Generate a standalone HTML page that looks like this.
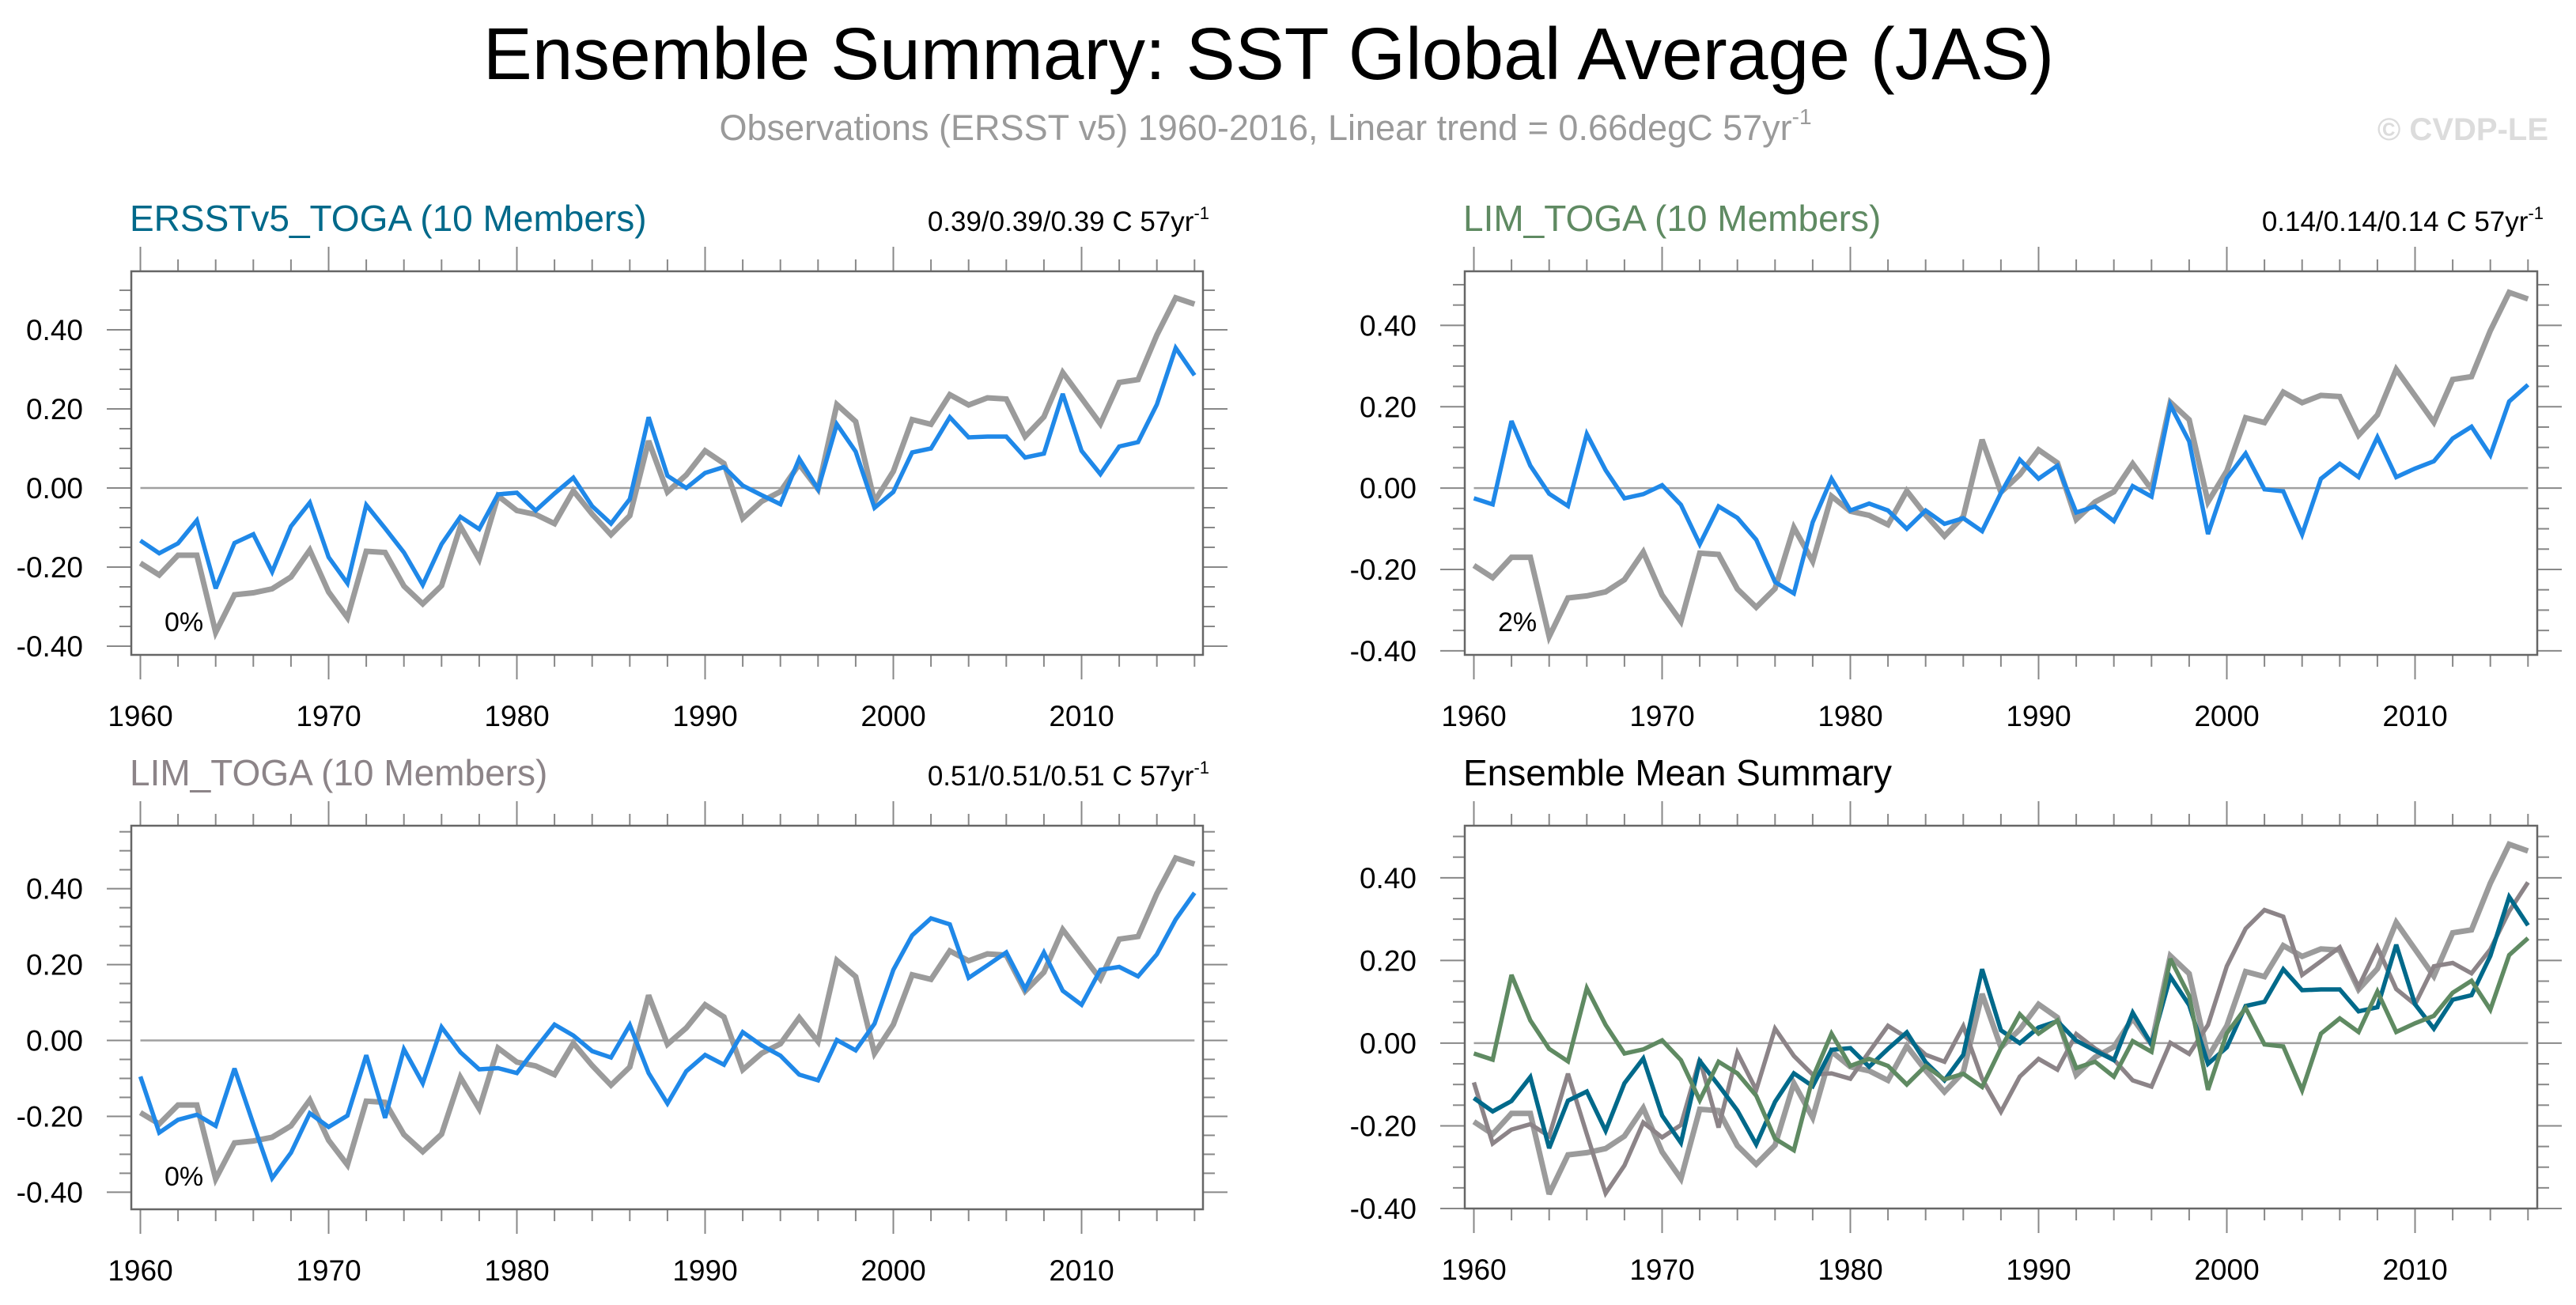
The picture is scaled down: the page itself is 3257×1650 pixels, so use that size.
<!DOCTYPE html>
<html><head><meta charset="utf-8"><style>
html,body{margin:0;padding:0;background:#fff;}
svg{display:block;font-family:"Liberation Sans",Arial,sans-serif;}
</style></head><body>
<svg id="fig" width="3257" height="1650" viewBox="0 0 3257 1650" xmlns="http://www.w3.org/2000/svg">
<text x="1604" y="100" font-size="93" text-anchor="middle" fill="#000">Ensemble Summary: SST Global Average (JAS)</text>
<text x="1600" y="177" font-size="45" text-anchor="middle" fill="#9a9a9a">Observations (ERSST v5) 1960-2016, Linear trend = 0.66degC 57yr<tspan font-size="28" dy="-20">-1</tspan></text>
<text x="3222" y="177" font-size="40" font-weight="bold" text-anchor="end" fill="#dcdcdc">© CVDP-LE</text>
</svg>
<script>
const years = [];
for (let y = 1960; y <= 2016; y++) years.push(y);
const obsSeries = [-0.19,-0.22,-0.17,-0.17,-0.365,-0.27,-0.265,-0.255,-0.225,-0.157,-0.263,-0.328,-0.16,-0.163,-0.248,-0.293,-0.247,-0.097,-0.18,-0.02,-0.057,-0.067,-0.09,-0.007,-0.066,-0.118,-0.07,0.119,-0.01,0.033,0.094,0.062,-0.077,-0.034,-0.009,0.06,-0.003,0.211,0.168,-0.034,0.042,0.173,0.161,0.236,0.21,0.228,0.225,0.13,0.18,0.292,0.227,0.162,0.267,0.274,0.387,0.481,0.465];
const erssTogaSeries = [-0.133,-0.165,-0.14,-0.082,-0.254,-0.139,-0.117,-0.212,-0.097,-0.037,-0.175,-0.241,-0.043,-0.102,-0.163,-0.245,-0.142,-0.073,-0.104,-0.016,-0.012,-0.057,-0.014,0.026,-0.046,-0.09,-0.028,0.179,0.031,0.0,0.038,0.053,0.006,-0.018,-0.041,0.074,-0.003,0.161,0.092,-0.05,-0.01,0.09,0.1,0.179,0.128,0.13,0.13,0.077,0.087,0.238,0.094,0.035,0.105,0.116,0.211,0.354,0.285];
const limTogaSeries = [-0.025,-0.04,0.165,0.055,-0.014,-0.044,0.133,0.044,-0.025,-0.015,0.007,-0.041,-0.138,-0.045,-0.073,-0.127,-0.231,-0.259,-0.084,0.023,-0.055,-0.038,-0.055,-0.1,-0.055,-0.088,-0.074,-0.106,-0.012,0.07,0.023,0.055,-0.06,-0.045,-0.081,0.005,-0.021,0.204,0.115,-0.113,0.024,0.085,-0.003,-0.008,-0.114,0.023,0.06,0.027,0.125,0.027,0.048,0.066,0.122,0.151,0.081,0.213,0.254];
const limToga2Series = [-0.095,-0.243,-0.209,-0.196,-0.225,-0.074,-0.22,-0.363,-0.296,-0.192,-0.228,-0.198,-0.039,-0.204,-0.023,-0.113,0.035,-0.031,-0.076,-0.073,-0.086,-0.021,0.042,0.013,-0.028,-0.045,0.041,-0.086,-0.166,-0.081,-0.038,-0.064,0.022,-0.013,-0.04,-0.09,-0.105,0.001,-0.026,0.044,0.186,0.277,0.322,0.306,0.165,0.198,0.232,0.136,0.232,0.131,0.094,0.186,0.194,0.169,0.227,0.319,0.389];
const yTickValues = [-0.4,-0.2,0.0,0.2,0.4];
const yTickLabels = ["-0.40","-0.20","0.00","0.20","0.40"];
const xTickYears = [1960,1970,1980,1990,2000,2010];
const xTickLabels = ["1960","1970","1980","1990","2000","2010"];

const NS = "http://www.w3.org/2000/svg";
const svg = document.getElementById('fig');
function mk(tag, attrs, parent){
  const e = document.createElementNS(NS, tag);
  for (const k in attrs) e.setAttribute(k, attrs[k]);
  (parent||svg).appendChild(e);
  return e;
}
const OBS='#9b9b9b', BLUE='#1f88e8', TEAL='#00698a', GREEN='#5f8a62', MAUVE='#8c8488';
const panels = [
  {name:'erssv5-toga', x0:166, x1:1521, y0:343, y1:828, ymin:-0.422, ymax:0.548, title:'ERSSTv5_TOGA (10 Members)', tcol:TEAL, trend:'0.39/0.39/0.39 C 57yr', pct:'0%',
   series:[[obsSeries,OBS,7],[erssTogaSeries,BLUE,5.5]]},
  {name:'lim-toga', x0:1852, x1:3208, y0:343, y1:828, ymin:-0.41, ymax:0.533, title:'LIM_TOGA (10 Members)', tcol:GREEN, trend:'0.14/0.14/0.14 C 57yr', pct:'2%',
   series:[[obsSeries,OBS,7],[limTogaSeries,BLUE,5.5]]},
  {name:'lim-toga-2', x0:166, x1:1521, y0:1044, y1:1529, ymin:-0.445, ymax:0.566, title:'LIM_TOGA (10 Members)', tcol:MAUVE, trend:'0.51/0.51/0.51 C 57yr', pct:'0%',
   series:[[obsSeries,OBS,7],[limToga2Series,BLUE,5.5]]},
  {name:'ensemble-mean-summary', x0:1852, x1:3208, y0:1044, y1:1528, ymin:-0.4, ymax:0.526, title:'Ensemble Mean Summary', tcol:'#000', trend:null, pct:null,
   series:[[obsSeries,OBS,7],[limToga2Series,MAUVE,5.5],[erssTogaSeries,TEAL,5.5],[limTogaSeries,GREEN,5.5]]}
];
panels.forEach(p=>{
  const g = mk('g',{});
  
  
  const xs = yr => p.x0 + 11.5 + (yr-1960)*23.8;
  const ys = v => p.y0 + (p.ymax - v)/(p.ymax - p.ymin)*(p.y1-p.y0);
  const t = mk('text',{x:p.x0-2, y:p.y0-51, 'font-size':46, fill:p.tcol}, g);
  t.textContent = p.title;
  
  
  if (p.trend){
    const tr = mk('text',{x:p.x1+8, y:p.y0-51, 'font-size':35, fill:'#000', 'text-anchor':'end'}, g);
    tr.textContent = p.trend;
    const sup = mk('tspan',{'font-size':22, dy:-15}, tr);
    sup.textContent = '-1';
    
    
  }
  for (let yr=1960; yr<=2016; yr+=2){
    const major = (yr%10===0);
    const len = major?31:15;
    const x = xs(yr);
    mk('line',{x1:x,x2:x,y1:p.y0,y2:p.y0-len,stroke:'#888','stroke-width':2},g);
    const tk = mk('line',{x1:x,x2:x,y1:p.y1,y2:p.y1+len,stroke:'#888','stroke-width':2},g);
    
    
  }
  xTickYears.forEach((yr,i)=>{
    const l = mk('text',{x:xs(yr), y:p.y1+90, 'font-size':37, 'text-anchor':'middle', fill:'#000'}, g);
    l.textContent = xTickLabels[i];
    
    
  });
  for (let k=-8; k<=12; k++){
    const v = k*0.05;
    if (v < p.ymin-1e-6 || v > p.ymax) continue;
    const major = (k%4===0);
    const len = major?31:15;
    const y = ys(v);
    mk('line',{x1:p.x0,x2:p.x0-len,y1:y,y2:y,stroke:'#888','stroke-width':2},g);
    const tk = mk('line',{x1:p.x1,x2:p.x1+len,y1:y,y2:y,stroke:'#888','stroke-width':2},g);
    
    
  }
  yTickValues.forEach((v,i)=>{
    const l = mk('text',{x:p.x0-61, y:ys(v)+13, 'font-size':37, 'text-anchor':'end', fill:'#000'}, g);
    l.textContent = yTickLabels[i];
    
    
  });
  const z = mk('line',{x1:xs(1960),x2:xs(2016),y1:ys(0),y2:ys(0),stroke:'#a0a0a0','stroke-width':2.5},g);
  
  
  p.series.forEach((s,si)=>{
    const pts = years.map((yr,i)=> xs(yr).toFixed(1)+','+ys(s[0][i]).toFixed(1)).join(' ');
    const pl = mk('polyline',{points:pts, fill:'none', stroke:s[1], 'stroke-width':s[2], 'stroke-linejoin':'miter','stroke-miterlimit':3}, g);
    
    
  });
  const fr = mk('rect',{x:p.x0,y:p.y0,width:p.x1-p.x0,height:p.y1-p.y0,fill:'none',stroke:'#666','stroke-width':2.5},g);
  
  
  if (p.pct){
    const pc = mk('text',{x:p.x0+42, y:p.y1-30, 'font-size':34, fill:'#000'}, g);
    pc.textContent = p.pct;
    
    
  }
});
</script>
</body></html>
